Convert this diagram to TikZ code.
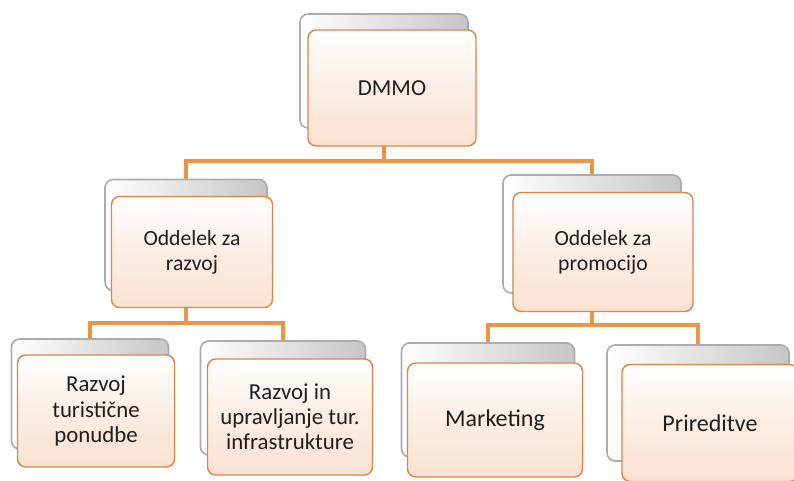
\documentclass[tikz,border=0pt]{standalone}
\usepackage{fontspec}
\setmainfont{Carlito}
\usetikzlibrary{backgrounds}

\definecolor{linkorange}{RGB}{238,148,70}
\definecolor{boxedge}{RGB}{222,132,70}
\definecolor{boxpeach}{RGB}{250,226,210}
\definecolor{boxtext}{RGB}{30,30,30}

\begin{document}
\begin{tikzpicture}[x=0.03cm,y=-0.03cm,
    box/.style={draw=boxedge,line width=1.2pt,rounded corners=7pt,
      top color=white,bottom color=boxpeach,middle color=boxpeach!60,text=boxtext,align=center,
      font=\fontsize{18.5}{21.5}\selectfont,inner sep=0pt},
    bigtext/.style={font=\fontsize{19.5}{21.5}\selectfont},
    backbox/.style={draw=gray!65,line width=1.4pt,rounded corners=7pt,
      left color=white,right color=gray!45,inner sep=0pt},
    link/.style={draw=linkorange,line width=2.6pt}]

    \useasboundingbox (0,0) rectangle (794,480);

    % back frames
    \node[backbox,minimum width=168*0.03cm,minimum height=114*0.03cm] (dmmo-b) at (384,71) {};
    \node[backbox,minimum width=162*0.03cm,minimum height=111*0.03cm] (razvoj-b) at (186,235) {};
    \node[backbox,minimum width=178*0.03cm,minimum height=118*0.03cm] (promo-b) at (592,234) {};
    \node[backbox,minimum width=157*0.03cm,minimum height=110*0.03cm] (ponudbe-b) at (90,394) {};
    \node[backbox,minimum width=165*0.03cm,minimum height=114*0.03cm] (infra-b) at (283,398) {};
    \node[backbox,minimum width=173*0.03cm,minimum height=114*0.03cm] (market-b) at (488,400) {};
    \node[backbox,minimum width=182*0.03cm,minimum height=116*0.03cm] (prired-b) at (698,403) {};

    % front boxes
    \node[box,bigtext,minimum width=168*0.03cm,minimum height=116*0.03cm] (dmmo) at (392,88) {DMMO};
    \node[box,minimum width=161*0.03cm,minimum height=111*0.03cm] (razvoj) at (192,252)
    {Oddelek za \\ razvoj};
    \node[box,minimum width=180*0.03cm,minimum height=119*0.03cm] (promo) at (603,252)
    {Oddelek za \\ promocijo};
    \node[box,bigtext,minimum width=157*0.03cm,minimum height=112*0.03cm] (ponudbe) at (96,411)
    {Razvoj \\ turistične \\ ponudbe};
    \node[box,bigtext,minimum width=165*0.03cm,minimum height=116*0.03cm] (infra) at (290,417)
    {Razvoj in \\ upravljanje tur. \\ infrastrukture};
    \node[box,font=\fontsize{20.5}{24}\selectfont,minimum width=175*0.03cm,minimum height=114*0.03cm] (market) at (495,420) {Marketing};
    \node[box,font=\fontsize{20.5}{24}\selectfont,minimum width=176*0.03cm,minimum height=117*0.03cm] (prired) at (710,423) {Prireditve};

    % connectors behind the boxes
    \coordinate (bus-top) at (384,161);
    \coordinate (bus-left) at (186,323);
    \coordinate (bus-right) at (592,325);

    \begin{scope}[on background layer]
      \draw[link] (dmmo-b.center) -- (bus-top);
      \draw[link] (razvoj-b.center) |- (bus-top) -| (promo-b.center);
      \draw[link] (razvoj-b.center) -- (bus-left);
      \draw[link] (ponudbe-b.center) |- (bus-left) -| (infra-b.center);
      \draw[link] (promo-b.center) -- (bus-right);
      \draw[link] (market-b.center) |- (bus-right) -| (prired-b.center);
    \end{scope}

  \end{tikzpicture}
\end{document}
